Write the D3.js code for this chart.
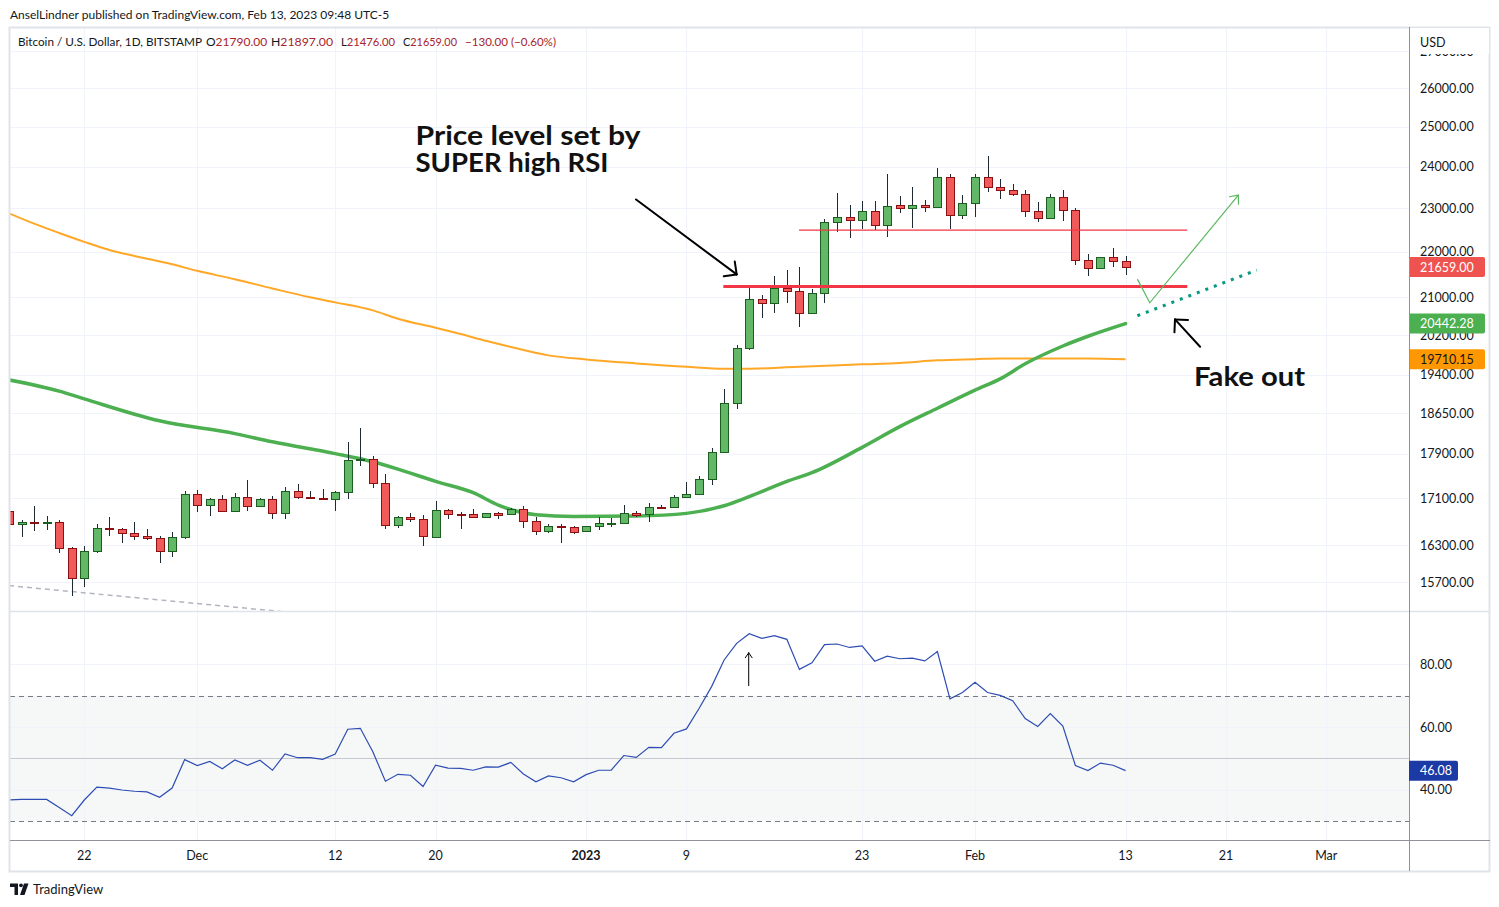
<!DOCTYPE html>
<html><head><meta charset="utf-8">
<script src="https://cdn.jsdelivr.net/npm/d3@7"></script>
<style>
html,body{margin:0;padding:0;background:#fff;}
svg{display:block;font-family:Lato,"Noto Sans",sans-serif;}
</style></head><body>
<svg id="chart" width="1499" height="907"></svg>
<script>
// ---------------- DATA ----------------
const dates = [
"2022-11-16","2022-11-17","2022-11-18","2022-11-19","2022-11-20","2022-11-21","2022-11-22","2022-11-23","2022-11-24","2022-11-25","2022-11-26","2022-11-27","2022-11-28","2022-11-29","2022-11-30",
"2022-12-01","2022-12-02","2022-12-03","2022-12-04","2022-12-05","2022-12-06","2022-12-07","2022-12-08","2022-12-09","2022-12-10","2022-12-11","2022-12-12","2022-12-13","2022-12-14","2022-12-15","2022-12-16","2022-12-17","2022-12-18","2022-12-19","2022-12-20","2022-12-21","2022-12-22","2022-12-23","2022-12-24","2022-12-25","2022-12-26","2022-12-27","2022-12-28","2022-12-29","2022-12-30","2022-12-31",
"2023-01-01","2023-01-02","2023-01-03","2023-01-04","2023-01-05","2023-01-06","2023-01-07","2023-01-08","2023-01-09","2023-01-10","2023-01-11","2023-01-12","2023-01-13","2023-01-14","2023-01-15","2023-01-16","2023-01-17","2023-01-18","2023-01-19","2023-01-20","2023-01-21","2023-01-22","2023-01-23","2023-01-24","2023-01-25","2023-01-26","2023-01-27","2023-01-28","2023-01-29","2023-01-30","2023-01-31",
"2023-02-01","2023-02-02","2023-02-03","2023-02-04","2023-02-05","2023-02-06","2023-02-07","2023-02-08","2023-02-09","2023-02-10","2023-02-11","2023-02-12","2023-02-13"];

const open = [16880,16653,16690,16685,16692,16249,15759,16200,16590,16580,16500,16450,16418,16200,16435,
17170,16979,17083,16875,17118,16962,17083,16840,17223,17120,17110,17083,17206,17776,17794,17365,16635,16773,16740,16435,16893,16830,16824,16773,16840,16824,16910,16704,16534,16618,16600,
16534,16618,16669,16675,16840,16824,16950,16944,17118,17170,17436,17930,18842,19932,20955,20870,21198,21133,20657,21083,22668,22783,22714,22924,22620,23065,22994,23065,23018,23734,22835,
23112,23734,23493,23422,23327,22924,22760,23254,22947,21805,21630,21873,21790];
const high = [17100,16726,16966,16794,16726,16271,16287,16650,16777,16595,16692,16578,16451,16528,17228,
17246,17106,17158,17193,17423,17106,17141,17304,17351,17228,17263,17233,18112,18373,17855,17530,16794,16840,16811,17054,16915,16857,16910,16840,16864,16932,16966,16782,16652,16652,16618,
16618,16773,16761,16979,16875,17014,16979,17153,17382,17495,18002,19119,19999,21210,21047,21460,21596,21662,21170,22738,23356,23065,23160,23160,23814,23278,23500,23183,23960,23807,23309,
23814,24256,23704,23570,23428,23143,23332,23428,22994,21953,21880,22088,21897];
const low = [16560,16433,16544,16556,16176,15482,15625,16166,16459,16343,16393,16388,16012,16110,16405,
16868,16799,16875,16875,16885,16944,16747,16747,17083,17105,17071,16885,17094,17679,17285,16578,16595,16687,16293,16418,16737,16578,16773,16773,16737,16824,16595,16476,16500,16343,16483,
16522,16561,16607,16657,16773,16687,16920,16927,17101,17153,17329,17916,18726,19897,20565,20657,20870,20364,20657,20883,22452,22315,22520,22497,22337,22880,22543,22903,22994,22520,22738,
22783,23389,23221,23278,22783,22668,22760,22691,21709,21470,21630,21665,21476];
const close = [16653,16687,16685,16692,16249,15759,16200,16595,16570,16500,16450,16418,16200,16435,17170,
16979,17083,16875,17118,16962,17083,16840,17223,17118,17110,17083,17206,17776,17794,17365,16635,16773,16740,16450,16893,16824,16820,16773,16840,16816,16910,16704,16534,16618,16600,16517,
16618,16669,16675,16840,16816,16944,16940,17118,17170,17436,17923,18842,19932,20955,20870,21198,21133,20657,21083,22668,22783,22714,22924,22620,23041,22994,23065,23018,23734,22835,23112,
23734,23493,23422,23327,22924,22760,23254,22947,21805,21630,21873,21785,21659];

const rsi = [36.7,36.9,36.9,36.9,34.3,31.7,36.7,40.8,40.5,39.9,39.5,39.3,37.6,40.5,49.6,
47.7,49.0,46.7,49.5,47.8,49.4,46.2,51.4,50.2,50.2,49.7,51.4,59.3,59.6,52.1,42.7,44.9,44.6,41.0,47.8,46.9,46.8,46.2,47.3,47.2,48.7,45.0,42.5,44.4,43.8,42.5,
44.8,46.2,46.2,50.9,50.3,53.5,53.4,58.0,59.4,65.9,72.9,81.4,86.7,89.8,88.3,89.2,88.0,78.4,80.5,86.3,86.5,85.4,85.9,81.0,82.6,81.8,82.0,81.1,84.1,69.0,71.0,
74.3,71.0,70.1,68.4,62.7,60.2,64.3,60.3,47.7,46.1,48.5,47.8,46.08];

// slow moving average (orange), read at sample dates
const maSlowDates = ["2022-11-16","2022-11-18","2022-11-20","2022-11-22","2022-11-24","2022-11-26","2022-11-29","2022-12-01","2022-12-04","2022-12-07","2022-12-10","2022-12-12","2022-12-15","2022-12-17","2022-12-20","2022-12-22","2022-12-24","2022-12-26","2022-12-29","2023-01-01","2023-01-05","2023-01-09","2023-01-12","2023-01-14","2023-01-17","2023-01-23","2023-01-26","2023-01-29","2023-02-01","2023-02-03","2023-02-06","2023-02-10","2023-02-13"];
const maSlowValues = [22880,22640,22425,22223,22040,21905,21720,21575,21390,21190,21000,20891,20720,20545,20356,20225,20086,19960,19790,19708,19628,19560,19522,19522,19549,19609,19638,19690,19714,19728,19728,19728,19710.15];

// fast moving average (green), read at sample dates
const maFastDates = ["2022-11-16","2022-11-20","2022-11-22","2022-11-28","2022-12-04","2022-12-07","2022-12-12","2022-12-15","2022-12-17","2022-12-20","2022-12-23","2022-12-25","2022-12-28","2022-12-31","2023-01-05","2023-01-09","2023-01-12","2023-01-14","2023-01-17","2023-01-19","2023-01-23","2023-01-26","2023-01-29","2023-02-01","2023-02-03","2023-02-05","2023-02-08","2023-02-10","2023-02-13"];
const maFastValues = [19300,19080,18930,18510,18270,18117,17900,17751,17620,17400,17200,16984,16815,16785,16794,16840,16972,17130,17400,17554,18015,18400,18750,19100,19320,19620,19980,20180,20442.28];

// axis ticks
const priceTicks = [27000,26000,25000,24000,23000,22000,21000,20200,19400,18650,17900,17100,16300,15700];
const rsiTicks = [80,60,40];
const rsiBands = [70,50,30];
const timeTickDates = ["2022-11-22","2022-12-01","2022-12-12","2022-12-20","2023-01-01","2023-01-09","2023-01-23","2023-02-01","2023-02-13","2023-02-21","2023-03-01"];
const timeTickLabels = ["22","Dec","12","20","2023","9","23","Feb","13","21","Mar"];

// drawings (time / price anchored)
const levelPrices = [21235, 22490];
const levelStarts = ["2023-01-11T22:30:00Z","2023-01-17T23:20:00Z"];
const levelEnds = ["2023-02-17T22:00:00Z","2023-02-17T22:00:00Z"];
const trendTimes = ["2022-11-16T00:00:00Z","2022-12-11T00:00:00Z"];
const trendPrices = [15642, 15172];
const projTimes = ["2023-02-13T22:34:00Z","2023-02-23T11:02:00Z"];
const projPrices = [20607, 21591];
const pathTimes = ["2023-02-13T22:34:00Z","2023-02-14T22:19:00Z","2023-02-21T23:46:00Z"];
const pathPrices = [21393, 20882, 23309];
const arrow1Times = ["2023-01-04T23:31:00Z","2023-01-13T00:00:00Z"];
const arrow1Prices = [23207, 21496];
const arrow2Times = ["2023-02-18T22:34:00Z","2023-02-16T22:34:00Z"];
const arrow2Prices = [19964, 20531];
const rsiArrowTimes = ["2023-01-13T23:02:00Z","2023-01-13T23:02:00Z"];
const rsiArrowValues = [73.1, 83.7];
const note1Lines = ["Price level set by","SUPER high RSI"];
const note1Time = "2022-12-18T09:36:00Z", note1Price = 24531;
const note2Text = "Fake out";
const note2Time = "2023-02-18T11:02:00Z", note2Price = 19178;

const headerText = "AnselLindner published on TradingView.com, Feb 13, 2023 09:48 UTC-5";
const symbolText = "Bitcoin / U.S. Dollar, 1D, BITSTAMP";
const ohlcLetters = ["O","H","L","C"];
const ohlcValues = ["21790.00","21897.00","21476.00","21659.00"];
const changeText = "\u2212130.00 (\u22120.60%)";
const lastClose = 21659.00, lastFast = 20442.28, lastSlow = 19710.15, lastRsi = 46.08;

// ---------------- LAYOUT ----------------
const L = 10, AX = 1409, R = 1490, T = 27, SEP = 611, TA = 840, B = 871;
const svg = d3.select("#chart");
const P = s => new Date(s.length === 10 ? s + "T00:00:00Z" : s);

const x = d3.scaleUtc().domain([P("2022-11-16"), P("2023-03-01")]).range([9.03, 1326.3]);
const y = d3.scaleLog().domain([15700, 26000]).range([582.0, 88.2]);
const yr = d3.scaleLinear().domain([30, 70]).range([821, 695.7]);
const crisp = v => Math.round(v) + 0.5;

const defs = svg.append("defs");
defs.append("clipPath").attr("id","cp").append("rect").attr("x",L).attr("y",T).attr("width",AX-L).attr("height",SEP-T);
defs.append("clipPath").attr("id","cr").append("rect").attr("x",L).attr("y",SEP).attr("width",AX-L).attr("height",TA-SEP);

// RSI band background
svg.append("rect").attr("x",L).attr("width",AX-L).attr("y",yr(70)).attr("height",yr(30)-yr(70)).attr("fill","#f6f8f8");

// grid
const grid = svg.append("g");
timeTickDates.forEach(d => {
  grid.append("line").attr("x1",crisp(x(P(d)))).attr("x2",crisp(x(P(d)))).attr("y1",T).attr("y2",TA).attr("stroke","#f0f3fa");
});
priceTicks.forEach(p => {
  grid.append("line").attr("x1",L).attr("x2",AX).attr("y1",crisp(y(p))).attr("y2",crisp(y(p))).attr("stroke","#f0f3fa");
});
rsiTicks.forEach(v => {
  grid.append("line").attr("x1",L).attr("x2",AX).attr("y1",crisp(yr(v))).attr("y2",crisp(yr(v))).attr("stroke","#f0f3fa");
});

// RSI band lines
rsiBands.forEach(v => {
  svg.append("line").attr("x1",L).attr("x2",AX).attr("y1",crisp(yr(v))).attr("y2",crisp(yr(v)))
    .attr("stroke", v === 50 ? "#c6c9d0" : "#787b86").attr("stroke-dasharray", v === 50 ? null : "5,4");
});

// ---------------- PRICE PANE ----------------
const pane = svg.append("g").attr("clip-path","url(#cp)");

// dashed trend line
pane.append("line").attr("x1",x(P(trendTimes[0]))).attr("y1",y(trendPrices[0]))
  .attr("x2",x(P(trendTimes[1]))).attr("y2",y(trendPrices[1]))
  .attr("stroke","#b2b5be").attr("stroke-width",1.5).attr("stroke-dasharray","5,4");

// moving averages
const lineGen = d3.line().x(d => x(d[0])).y(d => y(d[1])).curve(d3.curveMonotoneX);
pane.append("path").datum(maSlowDates.map((d,i)=>[P(d),maSlowValues[i]])).attr("d",lineGen)
  .attr("fill","none").attr("stroke","#ffa726").attr("stroke-width",2);
pane.append("path").datum(maFastDates.map((d,i)=>[P(d),maFastValues[i]])).attr("d",lineGen)
  .attr("fill","none").attr("stroke","#4caf50").attr("stroke-width",3.5).attr("stroke-linecap","round");

// candles
const candles = dates.map((d,i)=>({t:P(d),o:open[i],h:high[i],l:low[i],c:close[i]}));
const cg = pane.append("g");
candles.forEach(k => {
  const cx = Math.round(x(k.t));
  const up = k.c >= k.o;
  cg.append("line").attr("x1",cx+0.5).attr("x2",cx+0.5).attr("y1",Math.round(y(k.h))).attr("y2",Math.round(y(k.l)))
    .attr("stroke","#1e2a33").attr("stroke-width",1);
  const yt = Math.round(y(Math.max(k.o,k.c))), yb = Math.round(y(Math.min(k.o,k.c)));
  cg.append("rect").attr("x",cx-3.5).attr("width",8).attr("y",yt+0.5).attr("height",Math.max(1,yb-yt))
    .attr("fill", up ? "#63b868" : "#f05a5a").attr("stroke", up ? "#1b5e20" : "#8b1010").attr("stroke-width",1);
});

// horizontal levels
levelPrices.forEach((p,i) => {
  pane.append("line").attr("x1",x(P(levelStarts[i]))).attr("x2",x(P(levelEnds[i])))
    .attr("y1",y(p)).attr("y2",y(p)).attr("stroke","#f23645").attr("stroke-width", i===0 ? 3 : 1.2);
});

// projected dotted extension of the fast MA
pane.append("line").attr("x1",x(P(projTimes[0]))).attr("y1",y(projPrices[0]))
  .attr("x2",x(P(projTimes[1]))).attr("y2",y(projPrices[1]))
  .attr("stroke","#089981").attr("stroke-width",3).attr("stroke-dasharray","3,6.1");

function arrowHead(g, x1, y1, x2, y2, len, ang, color, w) {
  const a = Math.atan2(y1 - y2, x1 - x2);
  [ang, -ang].forEach(da => {
    g.append("line").attr("x1",x2).attr("y1",y2)
      .attr("x2",x2 + len*Math.cos(a+da)).attr("y2",y2 + len*Math.sin(a+da))
      .attr("stroke",color).attr("stroke-width",w).attr("stroke-linecap","round");
  });
}

// green path arrow
const pp = pathTimes.map((t,i)=>[x(P(t)), y(pathPrices[i])]);
pane.append("path").attr("d", d3.line()(pp)).attr("fill","none").attr("stroke","#5cb860").attr("stroke-width",1.2);
arrowHead(pane, pp[1][0], pp[1][1], pp[2][0], pp[2][1], 9, 0.7, "#5cb860", 1.2);

// black arrows
[[arrow1Times, arrow1Prices],[arrow2Times, arrow2Prices]].forEach(([ts, ps]) => {
  const x1 = x(P(ts[0])), y1 = y(ps[0]), x2 = x(P(ts[1])), y2 = y(ps[1]);
  pane.append("line").attr("x1",x1).attr("y1",y1).attr("x2",x2).attr("y2",y2).attr("stroke","#000").attr("stroke-width",2).attr("stroke-linecap","round");
  arrowHead(pane, x1, y1, x2, y2, 13, Math.PI/4, "#000", 2);
});

function fitText(sel, w) {
  const n = sel.node();
  const cur = n.getComputedTextLength();
  if (Math.abs(cur - w) / w > 0.02) sel.attr("textLength", w).attr("lengthAdjust","spacingAndGlyphs");
  return sel;
}

// annotation texts
const n1x = x(P(note1Time)), n1y = y(note1Price);
note1Lines.forEach((s,i) => {
  const t = svg.append("text").attr("x",n1x).attr("y",n1y + i*27.3).text(s)
    .attr("font-size",26).attr("font-weight",700).attr("fill","#111");
  fitText(t, i===0 ? 225 : 193);
});
fitText(svg.append("text").attr("x",x(P(note2Time))).attr("y",y(note2Price)).text(note2Text)
  .attr("font-size",26).attr("font-weight",700).attr("fill","#111"), 111);

// ---------------- RSI PANE ----------------
const rp = svg.append("g").attr("clip-path","url(#cr)");
rp.append("path").datum(candles.map((k,i)=>[k.t, rsi[i]]))
  .attr("d", d3.line().x(d=>x(d[0])).y(d=>yr(d[1])))
  .attr("fill","none").attr("stroke","#2d4cb3").attr("stroke-width",1.2);
{
  const ax = x(P(rsiArrowTimes[0])), ay1 = yr(rsiArrowValues[0]), ay2 = yr(rsiArrowValues[1]);
  rp.append("line").attr("x1",ax).attr("x2",ax).attr("y1",ay1).attr("y2",ay2).attr("stroke","#000").attr("stroke-width",1);
  arrowHead(rp, ax, ay1, ax, ay2, 6, 0.6, "#000", 1);
}

// ---------------- FRAME ----------------
svg.append("rect").attr("x",L-0.5).attr("y",T+0.5).attr("width",R-L).attr("height",B-T).attr("fill","none").attr("stroke","#e0e3eb").attr("stroke-width",2);
svg.append("line").attr("x1",L).attr("x2",R).attr("y1",SEP+0.5).attr("y2",SEP+0.5).attr("stroke","#e0e3eb").attr("stroke-width",1.5);
svg.append("line").attr("x1",L).attr("x2",R).attr("y1",TA+0.5).attr("y2",TA+0.5).attr("stroke","#8f929b");
svg.append("line").attr("x1",AX+0.5).attr("x2",AX+0.5).attr("y1",T).attr("y2",B).attr("stroke","#8f929b");

// price axis labels
const axG = svg.append("g").attr("font-size",12.5).attr("fill","#131722");
priceTicks.forEach(p => {
  axG.append("text").attr("x",1420).attr("y",y(p)+4.5).text(d3.format(".2f")(p));
});
svg.append("rect").attr("x",AX+1).attr("y",T+1).attr("width",R-AX-2).attr("height",26).attr("fill","#fff");
svg.append("text").attr("x",1420).attr("y",46.5).attr("font-size",12.5).attr("fill","#131722").text("USD");

// value badges
[[lastClose,"#ef5350","#fff"],[lastFast,"#4caf50","#fff"],[lastSlow,"#ff9800","#131722"]].forEach(([v,bg,fg]) => {
  const cy = y(v);
  svg.append("path").attr("d",`M${AX+1},${cy-10}H${1483}a2,2 0 0 1 2,2V${cy+8}a2,2 0 0 1 -2,2H${AX+1}Z`).attr("fill",bg);
  svg.append("text").attr("x",1420).attr("y",cy+4.5).attr("font-size",12.5).attr("fill",fg).text(d3.format(".2f")(v));
});

// RSI axis labels
rsiTicks.forEach(v => {
  axG.append("text").attr("x",1420).attr("y",yr(v)+4.5).text(d3.format(".2f")(v));
});
{
  const cy = yr(lastRsi);
  svg.append("path").attr("d",`M${AX},${cy-10}H${1456}a2,2 0 0 1 2,2V${cy+8}a2,2 0 0 1 -2,2H${AX}Z`).attr("fill","#1c3aa6");
  svg.append("text").attr("x",1420).attr("y",cy+4.5).attr("font-size",12.5).attr("fill","#fff").text(d3.format(".2f")(lastRsi));
}

// time axis labels
timeTickDates.forEach((d,i) => {
  svg.append("text").attr("x",x(P(d))).attr("y",859.5).attr("text-anchor","middle")
    .attr("font-size",12.5).attr("fill","#131722").attr("font-weight", timeTickLabels[i]==="2023" ? 700 : 400)
    .text(timeTickLabels[i]);
});

// header + legend
fitText(svg.append("text").attr("x",10).attr("y",19).attr("font-size",12).attr("fill","#131722").text(headerText), 381);
fitText(svg.append("text").attr("x",18).attr("y",45.5).attr("font-size",12).attr("fill","#131722").text(symbolText), 184);
const lx = [206, 271, 341, 403];
const lw = [62, 62, 54, 54];
ohlcLetters.forEach((c,i) => {
  const t = svg.append("text").attr("x",lx[i]).attr("y",45.5).attr("font-size",12);
  t.append("tspan").attr("fill","#131722").text(c);
  t.append("tspan").attr("fill","#a8232a").text(ohlcValues[i]);
  fitText(t, lw[i]);
});
fitText(svg.append("text").attr("x",465).attr("y",45.5).attr("font-size",12).attr("fill","#a8232a").text(changeText), 91);

// TradingView logo
const lg = svg.append("g").attr("fill","#131722");
lg.append("path").attr("d","M10,883.5H18V895H14.5V887H10Z");
lg.append("circle").attr("cx",21).attr("cy",885.3).attr("r",1.9);
lg.append("path").attr("d","M24,883.5H28.5L24.5,895H20Z");
fitText(svg.append("text").attr("x",33).attr("y",893.5).attr("font-size",13).attr("fill","#131722").text("TradingView"), 70);
</script>
</body></html>
